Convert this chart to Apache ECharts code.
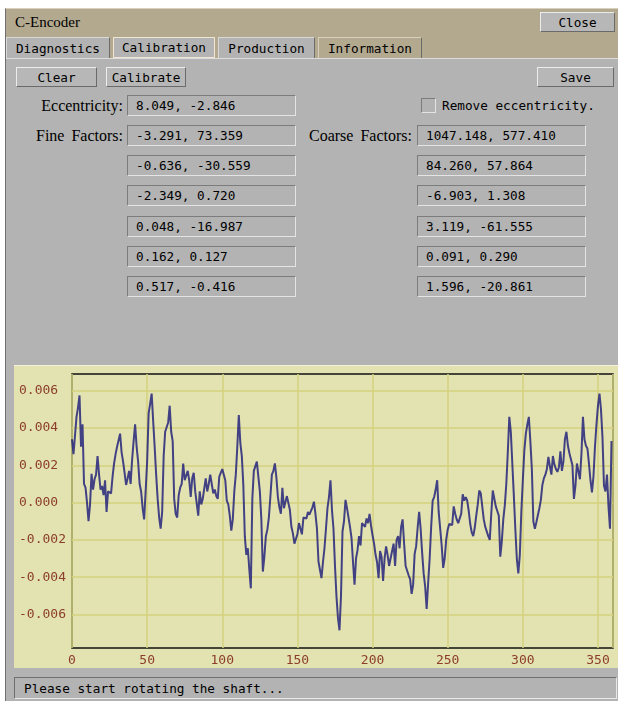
<!DOCTYPE html>
<html>
<head>
<meta charset="utf-8">
<title>C-Encoder</title>
<script src="https://cdn.jsdelivr.net/npm/echarts@6/dist/echarts.min.js"></script>
<style>
  html, body { margin: 0; padding: 0; background: #ffffff; width: 618px; height: 701px; overflow: hidden; }
  .abs { position: absolute; box-sizing: border-box; }
  .mono { font-family: "DejaVu Sans Mono", monospace; font-size: 12.7px; color: #000; }
  .serif { font-family: "Liberation Serif", serif; font-size: 15px; color: #000; }
  .serif.big { font-size: 16px; word-spacing: 3px; }
  #win { left: 5px; top: 8px; width: 613px; height: 693px; background: #b3b3b3; border-left: 1px solid #6f6f6f; }
  #titlebar { left: 5px; top: 8px; width: 613px; height: 29px; background: #b3a98f; border-top: 1px solid #d8d0bc; border-left: 1px solid #6f6f6f; }
  #tabrow { left: 5px; top: 37px; width: 613px; height: 21px; background: #b3a98f; border-left: 1px solid #6f6f6f; }
  .tab { top: 37px; height: 21px; background: #b3b3b3; border-top: 1px solid #d9d9d9; border-left: 1px solid #d9d9d9; border-right: 1px solid #6a6a6a; display: flex; align-items: center; justify-content: center; }
  .tab.sel { border: 1px solid #efe6d2; }
  .tab.tan { background: #b3a98f; border-top: 1px solid #d8d0bc; border-left: 1px solid #d8d0bc; }
  .btn { height: 20px; background: #b7b7b7; border-top: 1px solid #ececec; border-left: 1px solid #ececec; border-right: 1px solid #6a6a6a; border-bottom: 1px solid #6a6a6a; display: flex; align-items: center; justify-content: center; }
  .field { width: 169px; height: 21px; background: #b3b3b3; border-top: 1px solid #7c7c7c; border-left: 1px solid #7c7c7c; border-right: 1px solid #e4e4e4; border-bottom: 1px solid #e4e4e4; padding-left: 8px; display: flex; align-items: center; white-space: pre; }
  .lbl { height: 21px; display: flex; align-items: center; justify-content: flex-end; white-space: nowrap; }
  #panelTop { left: 6px; top: 58px; width: 612px; height: 1px; background: #dcdcdc; }
  #chartBox { left: 14px; top: 365px; width: 604px; height: 303px; background: #e3e3b1; border-top: 1px solid #f2f2d8; }
  #chart { left: 14px; top: 365px; width: 604px; height: 303px; }
  #status { left: 14px; top: 677px; width: 603px; height: 22px; background: #b3b3b3; border-top: 1px solid #6f6f6f; border-left: 1px solid #6f6f6f; border-right: 1px solid #e8e8e8; border-bottom: 1px solid #e8e8e8; padding-left: 9px; display: flex; align-items: center; white-space: pre; }
  #check { left: 421px; top: 98px; width: 15px; height: 15px; background: #b3b3b3; border-top: 1px solid #7c7c7c; border-left: 1px solid #7c7c7c; border-right: 1px solid #e4e4e4; border-bottom: 1px solid #e4e4e4; }
</style>
</head>
<body>
<div class="abs" id="win"></div>
<div class="abs" id="titlebar"></div>
<div class="abs serif" style="left:15px; top:11px; height:22px; line-height:22px;">C-Encoder</div>
<div class="abs btn mono" style="left:540px; top:12px; width:75px;">Close</div>

<div class="abs" id="tabrow"></div>
<div class="abs tab mono" style="left:6px; width:104px;">Diagnostics</div>
<div class="abs tab sel mono" style="left:113px; width:102px;">Calibration</div>
<div class="abs tab mono" style="left:218px; width:97px;">Production</div>
<div class="abs tab tan mono" style="left:318px; width:104px;">Information</div>
<div class="abs" id="panelTop"></div>

<div class="abs btn mono" style="left:16px; top:67px; width:81px;">Clear</div>
<div class="abs btn mono" style="left:106px; top:67px; width:80px;">Calibrate</div>
<div class="abs btn mono" style="left:537px; top:67px; width:77px;">Save</div>

<div id="form"></div>

<div class="abs" id="check"></div>
<div class="abs mono" style="left:442px; top:95px; height:21px; line-height:21px;">Remove eccentricity.</div>

<div class="abs" id="chartBox"></div>
<div class="abs" id="chart"></div>

<div class="abs mono" id="status">Please start rotating the shaft...</div>

<script>
// Calibration results shown in the read-only fields
const eccentricity = "8.049, -2.846";
const fineFactors = ["-3.291, 73.359", "-0.636, -30.559", "-2.349, 0.720", "0.048, -16.987", "0.162, 0.127", "0.517, -0.416"];
const coarseFactors = ["1047.148, 577.410", "84.260, 57.864", "-6.903, 1.308", "3.119, -61.555", "0.091, 0.290", "1.596, -20.861"];

// Residual error of the encoder over one shaft revolution, one sample per degree (units of 1e-3)
const startAngle = 0;
const angleStep = 1;
const residual = [
  3.4, 2.6, 3.6, 4.6, 5.1, 5.75, 3.0, 4.2, 1.0, 0.8,
  0.0, -1.0, -0.1, 1.55, 0.7, 1.25, 1.5, 2.5, 1.5, 0.7,
  0.9, 0.4, 1.2, -0.5, 0.6, 0.65, 0.5, 1.4, 2.1, 2.6,
  3.0, 2.9, 3.7, 2.7, 2.2, 1.6, 0.95, 1.3, 1.7, 1.0,
  2.3, 3.3, 4.2, 3.0, 2.2, 1.0, 0.6, -0.3, -0.9, 0.6,
  2.2, 4.8, 5.3, 5.85, 4.4, 3.0, 1.5, 0.2, -0.8, -1.4,
  -0.5, 2.5, 3.8, 3.7, 4.3, 5.2, 3.8, 3.3, 0.2, -0.6,
  -0.8, 0.4, 0.8, 1.0, 2.1, 1.2, 1.1, 1.7, 1.2, 0.3,
  1.3, 1.6, 0.6, 0.7, -0.7, 0.6, -0.1, 0.2, 0.2, 1.3,
  0.6, 1.0, 1.5, 1.0, 0.5, 0.7, 0.35, 0.2, 1.4, 1.6,
  1.8, 1.7, 1.2, 0.1, -0.1, -0.7, -1.5, -0.9, 0.6, 1.5,
  3.0, 4.7, 3.2, 2.5, 0.95, -1.8, -2.8, -2.45, -3.6, -4.6,
  0.2, 1.7, 1.8, 2.2, 2.2, 0.6, -0.9, -3.7, -2.9, -1.8,
  -1.45, -0.8, 0.3, 1.5, 1.7, 2.1, 1.35, 0.3, -0.25, -0.6,
  0.8, -0.3, -0.2, 0.35, 0.3, -0.4, -1.3, -1.65, -2.2, -2.3,
  -1.7, -1.1, -1.0, -1.7, -0.8, -0.8, -0.85, -0.5, -0.65, -0.7,
  -0.25, 0.05, -0.6, -1.4, -3.15, -3.6, -4.05, -3.2, -2.45, -1.4,
  -0.3, 0.3, 1.2, -0.4, -1.4, -3.4, -5.05, -6.2, -6.85, -5.0,
  -1.55, -1.0, 0.15, -0.3, -0.3, -1.3, -1.9, -3.2, -4.4, -3.0,
  -2.55, -1.8, -2.3, -1.1, -1.0, -1.3, -0.85, -1.1, -0.6, -1.25,
  -1.75, -2.2, -2.8, -3.2, -4.05, -2.6, -2.9, -4.2, -3.0, -2.35,
  -2.8, -3.4, -3.0, -2.9, -2.2, -3.4, -2.0, -1.8, -2.45, -1.3,
  -0.9, -2.2, -3.4, -3.5, -3.9, -4.1, -4.9, -4.4, -2.75, -2.35,
  -1.35, -0.5, -1.4, -2.7, -3.8, -4.5, -5.7, -4.3, -3.0, -1.3,
  0.1, 0.3, 0.7, 1.2, -0.5, -1.4, -2.3, -3.5, -3.0, -2.0,
  -1.45, -1.15, -1.1, -1.2, -0.2, -0.6, -0.9, -1.1, -1.0, -0.6,
  0.45, 0.1, 0.3, 0.1, -0.45, -1.15, -1.6, -1.8, -1.35, -0.7,
  -0.1, 0.65, 0.5, -0.2, -0.9, -1.3, -1.4, -1.8, -2.0, -0.6,
  0.65, 0.7, -0.2, -0.45, -0.7, -2.9, -2.1, -0.9, -0.15, 1.0,
  2.7, 4.6, 3.8, 2.1, 0.4, -1.4, -3.0, -3.8, -2.8, -0.5,
  1.2, 2.8, 3.7, 4.2, 4.6, 3.3, 1.8, -1.0, -1.4, -1.05,
  -1.0, -0.3, 0.15, 0.95, 1.3, 1.5, 1.8, 2.45, 1.95, 1.5,
  2.5, 2.05, 1.8, 1.65, 1.9, 2.75, 1.7, 2.2, 3.4, 3.8,
  3.05, 2.65, 2.7, 2.0, 0.2, 0.9, 2.1, 2.0, 1.25, 2.6,
  4.6, 3.4, 3.05, 2.9, 2.1, 1.2, 0.55, 1.4, 3.0, 4.2,
  5.2, 5.85, 5.0, 3.5, 0.9, 0.6, 1.5, -0.2, -1.4, 3.3
];

// Axis ticks
const angleTicks = [0, 50, 100, 150, 200, 250, 300, 350];
const residualTicks = [-0.006, -0.004, -0.002, 0, 0.002, 0.004, 0.006];

// Build the form rows
(function buildForm() {
  const form = document.getElementById('form');
  const rowTops = [95, 125, 155, 185, 216, 246, 276];
  function add(cls, style, text) {
    const d = document.createElement('div');
    d.className = cls;
    d.setAttribute('style', style);
    d.textContent = text;
    form.appendChild(d);
  }
  add('abs lbl serif big', 'left:0px; width:123px; top:' + rowTops[0] + 'px;', 'Eccentricity:');
  add('abs field mono', 'left:127px; top:' + rowTops[0] + 'px;', eccentricity);
  add('abs lbl serif big', 'left:0px; width:123px; top:' + rowTops[1] + 'px;', 'Fine Factors:');
  add('abs lbl serif big', 'left:250px; width:162px; top:' + rowTops[1] + 'px;', 'Coarse Factors:');
  fineFactors.forEach(function (t, i) {
    add('abs field mono', 'left:127px; top:' + rowTops[i + 1] + 'px;', t);
  });
  coarseFactors.forEach(function (t, i) {
    add('abs field mono', 'left:417px; top:' + rowTops[i + 1] + 'px;', t);
  });
})();

const chart = echarts.init(document.getElementById('chart'), null, { renderer: 'canvas' });
const labelColor = '#8c3d2b';
const gridColor = '#d4d27e';
const monoFont = '"DejaVu Sans Mono", monospace';

chart.setOption({
  animation: false,
  backgroundColor: 'transparent',
  grid: {
    left: 58, top: 9, right: 5, bottom: 20,
    show: true, borderColor: '#111111', borderWidth: 1.5, backgroundColor: 'transparent'
  },
  xAxis: {
    type: 'value', min: 0, max: 360, interval: 50,
    axisLine: { show: false },
    axisTick: { show: false },
    splitLine: { show: true, lineStyle: { color: gridColor, width: 1.5 } },
    axisLabel: {
      color: labelColor, fontFamily: monoFont, fontSize: 13, margin: 6,
      customValues: angleTicks,
      formatter: function (v) { return String(v); }
    }
  },
  yAxis: {
    type: 'value', min: -0.0078, max: 0.0069, splitNumber: 7,
    axisLine: { show: false },
    axisTick: { show: false, customValues: residualTicks },
    splitLine: { show: true, lineStyle: { color: gridColor, width: 1.5 } },
    axisLabel: {
      color: labelColor, fontFamily: monoFont, fontSize: 13, margin: 53, align: 'left',
      customValues: residualTicks,
      formatter: function (v) { return v.toFixed(3); }
    }
  },
  series: [{
    type: 'line',
    showSymbol: false,
    data: residual.map(function (v, i) { return [startAngle + i * angleStep, v * 1e-3]; }),
    lineStyle: { color: '#25257c', width: 2, opacity: 0.85 },
    emphasis: { disabled: true }
  }]
});
</script>
</body>
</html>
